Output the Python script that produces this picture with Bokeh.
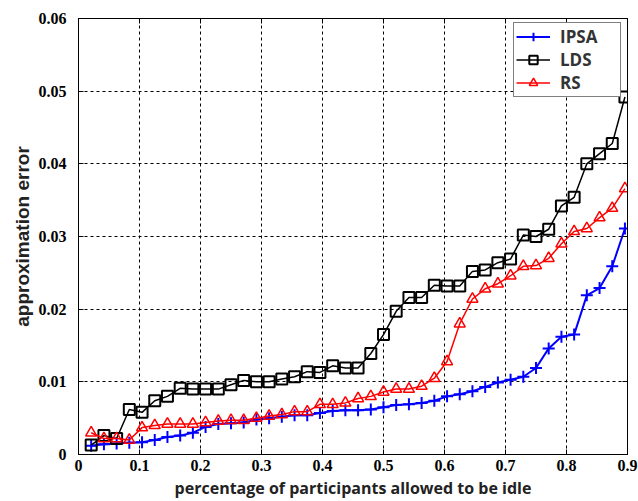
from bokeh.plotting import figure
from bokeh.models import LinearAxis, Range1d, FixedTicker
from bokeh.embed import file_html
from bokeh.resources import INLINE

# fraction of participants allowed to be idle (k/48, k = 1..43)
idle_frac = [0.0208, 0.0417, 0.0625, 0.0833, 0.1042, 0.125, 0.1458, 0.1667, 0.1875, 0.2083,
             0.2292, 0.25, 0.2708, 0.2917, 0.3125, 0.3333, 0.3542, 0.375, 0.3958, 0.4167,
             0.4375, 0.4583, 0.4792, 0.5, 0.5208, 0.5417, 0.5625, 0.5833, 0.6042, 0.625,
             0.6458, 0.6667, 0.6875, 0.7083, 0.7292, 0.75, 0.7708, 0.7917, 0.8125, 0.8333,
             0.8542, 0.875, 0.8958]

ipsa = [0.0012, 0.0014, 0.0015, 0.0016, 0.0017, 0.0020, 0.0024, 0.0026, 0.0030, 0.0038,
        0.0042, 0.0043, 0.0044, 0.0048, 0.0050, 0.0052, 0.0054, 0.0054, 0.0057, 0.0060,
        0.0061, 0.0061, 0.0062, 0.0065, 0.0068, 0.0069, 0.0071, 0.0074, 0.0080, 0.0083,
        0.0087, 0.0093, 0.0099, 0.0103, 0.0107, 0.0119, 0.0146, 0.0162, 0.0165, 0.0219,
        0.0229, 0.0259, 0.0311]

lds = [0.0013, 0.0026, 0.0022, 0.0062, 0.0058, 0.0074, 0.0080, 0.0091, 0.0090, 0.0090,
       0.0090, 0.0096, 0.0102, 0.0100, 0.0100, 0.0104, 0.0107, 0.0114, 0.0113, 0.0122,
       0.0119, 0.0119, 0.0139, 0.0165, 0.0197, 0.0216, 0.0216, 0.0233, 0.0232, 0.0232,
       0.0252, 0.0254, 0.0264, 0.0269, 0.0302, 0.0300, 0.0310, 0.0342, 0.0354, 0.0400,
       0.0414, 0.0428, 0.0492]

rs = [0.0030, 0.0022, 0.0022, 0.0020, 0.0037, 0.0040, 0.0042, 0.0042, 0.0042, 0.0044,
      0.0046, 0.0047, 0.0047, 0.0050, 0.0053, 0.0055, 0.0059, 0.0059, 0.0069, 0.0069,
      0.0071, 0.0077, 0.0080, 0.0086, 0.0090, 0.0090, 0.0094, 0.0105, 0.0128, 0.0180,
      0.0214, 0.0228, 0.0235, 0.0246, 0.0259, 0.0260, 0.0270, 0.0290, 0.0307, 0.0311,
      0.0326, 0.0339, 0.0366]

x_ticks = [0, 0.1, 0.2, 0.3, 0.4, 0.5, 0.6, 0.7, 0.8, 0.9]
x_tick_labels = ["0", "0.1", "0.2", "0.3", "0.4", "0.5", "0.6", "0.7", "0.8", "0.9"]
y_ticks = [0, 0.01, 0.02, 0.03, 0.04, 0.05, 0.06]
y_tick_labels = ["0", "0.01", "0.02", "0.03", "0.04", "0.05", "0.06"]

p = figure(width=638, height=501, x_range=Range1d(0, 0.9), y_range=Range1d(0, 0.06),
           output_backend="svg", toolbar_location=None,
           min_border_left=78, min_border_right=11, min_border_top=18, min_border_bottom=47)

p.outline_line_color = "black"
p.outline_line_width = 1

tick_font = "Liberation Serif"
for ax, ticks, labels in ((p.xaxis[0], x_ticks, x_tick_labels), (p.yaxis[0], y_ticks, y_tick_labels)):
    ax.ticker = FixedTicker(ticks=ticks)
    ax.major_label_overrides = {t: l for t, l in zip(ticks, labels)}
    ax.major_tick_in = 5
    ax.major_tick_out = 0
    ax.minor_tick_in = 0
    ax.minor_tick_out = 0
    ax.axis_line_color = "black"
    ax.major_tick_line_color = "black"
    ax.major_label_text_font = tick_font
    ax.major_label_text_font_style = "bold"
    ax.major_label_text_font_size = "16px"
    ax.major_label_text_color = "black"

p.xaxis.major_label_standoff = 5
p.yaxis.major_label_standoff = 12

p.xaxis.axis_label = "percentage of participants allowed to be idle"
p.xaxis.axis_label_text_font = "Open Sans"
p.xaxis.axis_label_text_font_style = "bold"
p.xaxis.axis_label_text_font_size = "16px"
p.xaxis.axis_label_text_color = "#222222"
p.xaxis.axis_label_standoff = 3

p.yaxis.axis_label = "approximation error"
p.yaxis.axis_label_text_font = "Liberation Sans"
p.yaxis.axis_label_text_font_style = "bold"
p.yaxis.axis_label_text_font_size = "19px"
p.yaxis.axis_label_text_color = "#222222"
p.yaxis.axis_label_standoff = 3

# ticks on right and top (box style)
for loc, ticks in (("right", y_ticks), ("above", x_ticks)):
    ax = LinearAxis(ticker=FixedTicker(ticks=ticks),
                    major_label_overrides={t: "" for t in ticks},
                    major_tick_in=5, major_tick_out=0, minor_tick_in=0, minor_tick_out=0,
                    major_label_standoff=0, axis_line_color="black")
    p.add_layout(ax, loc)

p.xgrid.ticker = FixedTicker(ticks=x_ticks)
p.ygrid.ticker = FixedTicker(ticks=y_ticks)
for g in (p.xgrid[0], p.ygrid[0]):
    g.grid_line_color = "black"
    g.grid_line_dash = "3 3"
    g.grid_line_width = 1
    g.grid_line_alpha = 1.0

# series
p.line(idle_frac, ipsa, color="#0000ff", line_width=2, legend_label="IPSA")
p.scatter(idle_frac, ipsa, marker="cross", size=12, line_color="#0000ff", line_width=2,
          legend_label="IPSA")

p.line(idle_frac, lds, color="black", line_width=1.5, legend_label="LDS")
p.scatter(idle_frac, lds, marker="square", size=11, line_color="black", fill_color=None,
          line_width=2, legend_label="LDS")

p.line(idle_frac, rs, color="#ff0000", line_width=1.5, legend_label="RS")
p.scatter(idle_frac, rs, marker="triangle", size=11, line_color="#ff0000", fill_color=None,
          line_width=1.5, legend_label="RS")

lg = p.legend[0]
lg.location = (435, 357)
lg.border_line_color = "black"
lg.border_line_width = 1
lg.background_fill_color = "white"
lg.background_fill_alpha = 1
lg.padding = 2
lg.spacing = 0
lg.margin = 0
lg.glyph_width = 34
lg.glyph_height = 21
lg.label_height = 21
lg.label_width = 58
lg.label_standoff = 10
lg.label_text_font = "Open Sans"
lg.label_text_font_style = "bold"
lg.label_text_font_size = "17px"
lg.label_text_color = "#333333"

open("out.html", "w").write(file_html(p, INLINE))
